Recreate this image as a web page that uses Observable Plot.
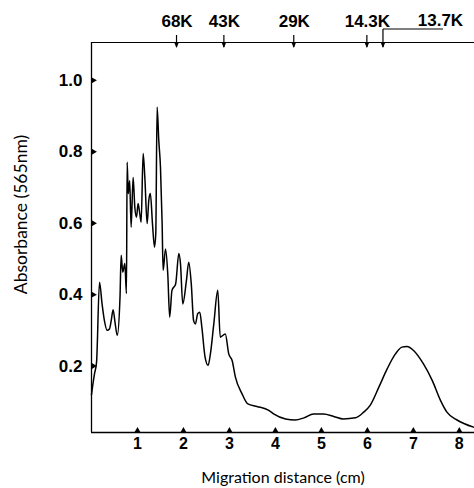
<!DOCTYPE html>
<html><head><meta charset="utf-8">
<script src="https://cdn.jsdelivr.net/npm/d3@7"></script>
<script src="https://cdn.jsdelivr.net/npm/@observablehq/plot@0.6"></script>
<style>html,body{margin:0;padding:0;background:#fff}</style>
</head><body><div id="chart"></div>
<script>
// Densitometric scan: migration distance (cm) vs absorbance at 565 nm
const distance = [0.00,0.01,0.065,0.11,0.174,0.23,0.28,0.34,0.39,0.43,0.47,0.51,0.56,0.62,0.645,0.68,0.725,0.76,0.775,0.80,0.83,0.862,0.905,0.942,0.978,1.014,1.05,1.08,1.123,1.16,1.21,1.246,1.28,1.326,1.37,1.398,1.427,1.463,1.50,1.536,1.558,1.61,1.66,1.70,1.75,1.83,1.90,1.935,1.985,2.065,2.115,2.17,2.22,2.26,2.31,2.355,2.40,2.47,2.536,2.586,2.66,2.746,2.80,2.91,2.985,3.06,3.13,3.275,3.40,3.60,3.856,3.96,4.22,4.43,4.62,4.83,5.05,5.27,5.48,5.74,5.92,6.06,6.25,6.43,6.61,6.75,6.86,7.01,7.22,7.41,7.59,7.73,7.95,8.31];
const absorbance = [0.12,0.13,0.178,0.211,0.435,0.374,0.328,0.30,0.304,0.328,0.358,0.324,0.286,0.393,0.51,0.463,0.487,0.403,0.771,0.683,0.719,0.589,0.728,0.645,0.617,0.655,0.627,0.603,0.795,0.728,0.599,0.664,0.683,0.599,0.533,0.571,0.925,0.832,0.757,0.60,0.468,0.528,0.455,0.337,0.412,0.43,0.515,0.487,0.374,0.44,0.491,0.43,0.328,0.318,0.347,0.351,0.309,0.225,0.202,0.234,0.318,0.412,0.281,0.29,0.234,0.215,0.169,0.122,0.094,0.087,0.076,0.066,0.052,0.049,0.055,0.066,0.066,0.059,0.052,0.055,0.071,0.09,0.141,0.192,0.234,0.253,0.255,0.243,0.206,0.16,0.104,0.071,0.049,0.029];
const xTicks = [1,2,3,4,5,6,7,8];
const yTicks = [0.2,0.4,0.6,0.8,1.0];
const markerPositions = [1.86,2.89,4.41,6.0,6.35];
const markerLabels = ["68K","43K","29K","14.3K","13.7K"];
const xTitle = "Migration distance (cm)";
const yTitle = "Absorbance (565nm)";
const xDomain = [0, 8.33];
const yDomain = [0.014, 1.106];

const data = distance.map((d, i) => ({x: d, y: absorbance[i]}));
const markers = markerPositions.map((p, i) => ({x: p, label: markerLabels[i]}));
const mainMarkers = markers.slice(0, -1);
const leaderMarker = markers.slice(-1);

const markerArrows = (index, scales, values, dimensions) => {
  const g = d3.create("svg:g").attr("stroke", "black").attr("fill", "none");
  const top = dimensions.marginTop;
  markers.forEach((m, i) => {
    const x = scales.x(m.x);
    const last = i === markers.length - 1;
    g.append("path").attr("d", `M${x},${last ? top - 13 : top - 7}V${top + 5}`).attr("stroke-width", 1.2);
    g.append("path").attr("d", `M${x - 2.5},${top}L${x},${top + 6}L${x + 2.5},${top}Z`).attr("fill", "black").attr("stroke", "none");
    if (last) g.append("path").attr("d", `M${x},${top - 13}H${x + 60}`).attr("stroke-width", 1.2);
  });
  return g.node();
};

const chart = Plot.plot({
  width: 474, height: 488,
  marginLeft: 91, marginRight: 0, marginTop: 42, marginBottom: 56,
  x: {domain: xDomain},
  y: {domain: yDomain},
  style: {fontFamily: "'Liberation Sans', Arial, sans-serif", background: "white", color: "black"},
  marks: [
    Plot.axisX(xTicks, {anchor: "bottom", tickSize: 0, tickPadding: 5, fontSize: 16, fontWeight: "bold", label: null}),
    Plot.axisY(yTicks, {anchor: "left", tickSize: 0, tickPadding: 9, tickFormat: d3.format(".1f"), fontSize: 17, fontWeight: "bold", label: null}),
    Plot.ruleX([xDomain[0]], {stroke: "black", strokeWidth: 1.3}),
    Plot.ruleY([yDomain[0]], {stroke: "black", strokeWidth: 1.3}),
    Plot.ruleY([yDomain[1]], {stroke: "black", strokeWidth: 1.1}),
    Plot.dot(xTicks, {x: d => d, frameAnchor: "bottom", symbol: "triangle", r: 2.2, dy: -2, fill: "black", stroke: null}),
    Plot.dot(yTicks, {y: d => d, frameAnchor: "left", symbol: "triangle", rotate: 90, r: 2.2, dx: 2, fill: "black", stroke: null}),
    markerArrows,
    Plot.text(mainMarkers, {x: "x", text: "label", frameAnchor: "top", lineAnchor: "middle", dy: -21, fontSize: 17, fontWeight: "bold"}),
    Plot.text(leaderMarker, {x: "x", text: "label", frameAnchor: "top", lineAnchor: "middle", dy: -22, dx: 57, fontSize: 17, fontWeight: "bold"}),
    Plot.text([xTitle], {frameAnchor: "bottom", lineAnchor: "middle", dy: 45, fontSize: 16, fontFamily: "Lato, sans-serif"}),
    Plot.text([yTitle], {frameAnchor: "left", textAnchor: "middle", lineAnchor: "middle", rotate: -90, dx: -70, dy: -23, fontSize: 17.5, fontFamily: "Lato, sans-serif"}),
    Plot.line(data, {x: "x", y: "y", stroke: "black", strokeWidth: 1.5, curve: "monotone-x"})
  ]
});
document.getElementById("chart").appendChild(chart);
</script>
</body></html>
